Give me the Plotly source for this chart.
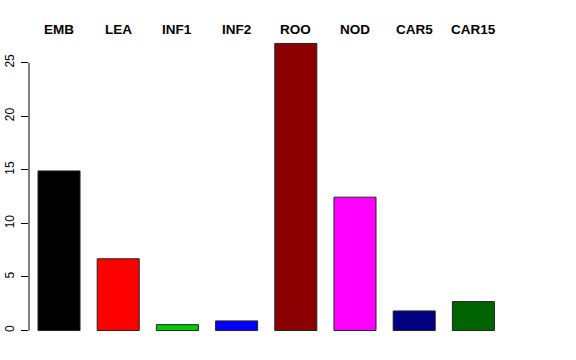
import plotly.graph_objects as go

categories = ["EMB", "LEA", "INF1", "INF2", "ROO", "NOD", "CAR5", "CAR15"]
values = [14.9, 6.7, 0.55, 0.9, 26.8, 12.45, 1.83, 2.7]
colors = ["#000000", "#FF0000", "#00CD00", "#0000FF", "#8B0000", "#FF00FF", "#000080", "#006400"]
y_ticks = [0, 5, 10, 15, 20, 25]

fig = go.Figure()
fig.add_trace(go.Bar(
    x=list(range(len(categories))), y=values,
    marker=dict(color=colors, line=dict(color="#222222", width=1)),
    width=0.71,
))

for i, c in enumerate(categories):
    fig.add_annotation(x=i, y=1.008, xref="x", yref="paper", text="<b>" + c + "</b>",
                       showarrow=False, font=dict(size=13.5, color="black",
                       family="Liberation Sans, Arial, sans-serif"),
                       yanchor="middle", xanchor="center")

# y axis line only between first and last tick (R style)
fig.add_shape(type="line", xref="paper", yref="y", x0=0, x1=0,
              y0=y_ticks[0], y1=y_ticks[-1], line=dict(color="black", width=1))

fig.update_layout(
    width=576, height=360,
    margin=dict(l=29, r=62, t=31.5, b=17.5, autoexpand=False),
    paper_bgcolor="white", plot_bgcolor="white",
    showlegend=False,
    font=dict(family="Liberation Sans, Arial, sans-serif", color="black"),
    xaxis=dict(range=[-0.507, 7.686], showticklabels=False, showgrid=False,
               zeroline=False, showline=False, ticks="", automargin=False),
    yaxis=dict(range=[-1.07, 27.87], tickvals=y_ticks, ticks="outside", ticklen=7,
               tickcolor="black", tickangle=-90, showgrid=False, zeroline=False,
               showline=False, automargin=False, ticklabelstandoff=2,
               tickfont=dict(size=12, color="black")),
)

fig.write_html("out.html")
